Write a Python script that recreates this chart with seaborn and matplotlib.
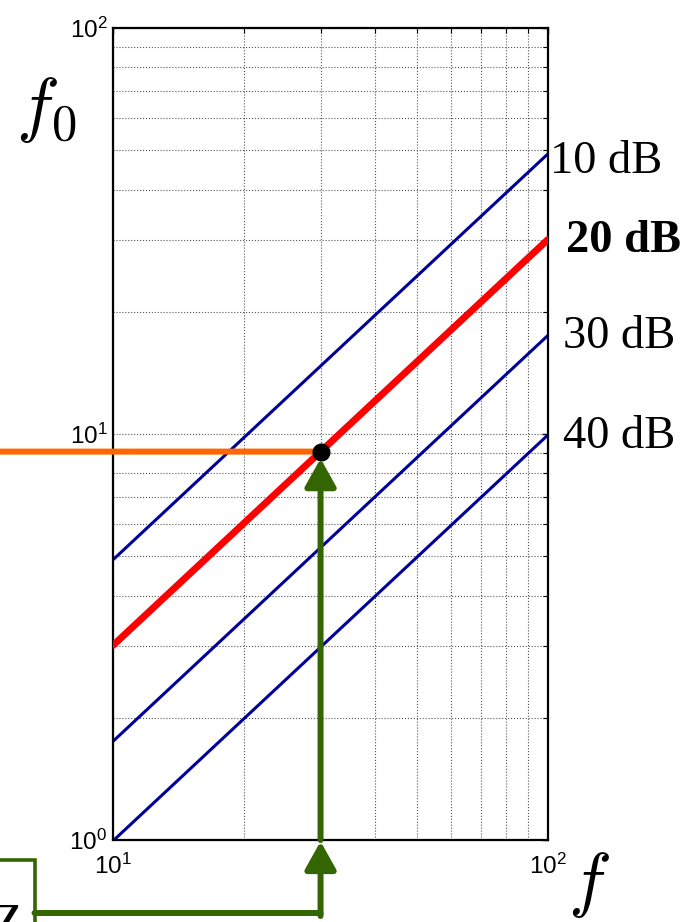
import matplotlib
matplotlib.use("Agg")
import matplotlib.pyplot as plt
from matplotlib.patches import Rectangle
from matplotlib.ticker import NullFormatter
import seaborn as sns
import pandas as pd

# Filter frequency f vs. corner frequency f0 needed for a given attenuation
freq = [10, 100]
f0_10db = [4.9, 49.0]
f0_20db = [3.015, 30.15]
f0_30db = [1.75, 17.5]
f0_40db = [0.995, 9.95]
attenuation_labels = ["10 dB", "20 dB", "30 dB", "40 dB"]

# Worked example: f = 30 with 20 dB attenuation
point_f = 30
point_f0 = 9.05

series = [f0_10db, f0_20db, f0_30db, f0_40db]
df = pd.concat(
    [pd.DataFrame({"f": freq, "f0": vals, "att": lab})
     for vals, lab in zip(series, attenuation_labels)],
    ignore_index=True,
)

sns.set_theme(style="white")
plt.rcParams["font.family"] = ["Liberation Sans", "DejaVu Sans"]
plt.rcParams["text.color"] = "black"
plt.rcParams["xtick.labelcolor"] = "black"
plt.rcParams["ytick.labelcolor"] = "black"

W, H = 692, 922
fig = plt.figure(figsize=(W / 100, H / 100), dpi=100)
ax = fig.add_axes([113 / W, 82 / H, 435 / W, 812 / H])

navy = "#000099"
red = "#ff0000"
orange = "#ff6600"
green = "#336600"

styles = {
    "10 dB": dict(color=navy, lw=2.2, weight="normal", dx=2, dy=-19),
    "20 dB": dict(color=red, lw=5.0, weight="bold", dx=18, dy=-13),
    "30 dB": dict(color=navy, lw=2.2, weight="normal", dx=15, dy=-13),
    "40 dB": dict(color=navy, lw=2.2, weight="normal", dx=15, dy=-13),
}

for lab in attenuation_labels:
    sub = df[df["att"] == lab]
    st = styles[lab]
    sns.lineplot(data=sub, x="f", y="f0", ax=ax, color=st["color"],
                 lw=st["lw"], legend=False, zorder=3 if lab == "20 dB" else 2)

ax.set_xscale("log")
ax.set_yscale("log")
ax.set_xlim(10, 100)
ax.set_ylim(1, 100)
ax.set_xlabel("")
ax.set_ylabel("")
ax.xaxis.set_minor_formatter(NullFormatter())
ax.yaxis.set_minor_formatter(NullFormatter())

ax.grid(True, which="both", ls=":", color="#555555", lw=0.8)
ax.tick_params(which="both", direction="in", top=True, right=True,
               labelsize=17.5, color="black", labelcolor="black")
ax.tick_params(which="major", length=4.5, width=1.0)
ax.tick_params(which="minor", length=3.5, width=0.8)
ax.tick_params(axis="x", pad=10)
ax.tick_params(axis="y", pad=4)
for sp in ax.spines.values():
    sp.set_color("black")
    sp.set_linewidth(1.6)

# Attenuation labels at the right end of each line
for lab, vals in zip(attenuation_labels, series):
    st = styles[lab]
    ax.annotate(lab, xy=(freq[-1], vals[-1]), xytext=(st["dx"], st["dy"]),
                textcoords="offset pixels", fontsize=33.5, color="black",
                family="Liberation Serif", fontweight=st["weight"],
                ha="left", va="baseline", annotation_clip=False)

# Axis symbols
fig.text(16 / W, 1 - 128 / H, r"$f_0$", math_fontfamily="cm",
         fontsize=52, ha="left", va="baseline", color="black")
fig.text(568 / W, 1 - 903 / H, r"$f$", math_fontfamily="cm",
         fontsize=52, ha="left", va="baseline", color="black")

# Read-off construction: horizontal to the f0 axis
ax.annotate("", xy=(point_f, point_f0), xytext=(0, point_f0),
            textcoords=("figure fraction", "data"),
            arrowprops=dict(arrowstyle="-", color=orange, lw=4.3,
                            shrinkA=0, shrinkB=0),
            annotation_clip=False, zorder=4)

head = "-|>,head_length=17,head_width=9.5"
# Vertical feed from below into the f axis
ax.annotate("", xy=(point_f, 1), xycoords="data",
            xytext=(point_f, 6), textcoords=("data", "figure pixels"),
            arrowprops=dict(arrowstyle=head, mutation_scale=1, color=green,
                            lw=4.3, shrinkA=0, shrinkB=1),
            annotation_clip=False, zorder=4)
# Vertical up to the operating point
ax.annotate("", xy=(point_f, point_f0), xytext=(point_f, 1),
            arrowprops=dict(arrowstyle=head, mutation_scale=1, color=green,
                            lw=4.3, shrinkA=0, shrinkB=5),
            annotation_clip=False, zorder=4)
# Horizontal feed from the source block
ax.annotate("", xy=(point_f, 9), xycoords=("data", "figure pixels"),
            xytext=(34.5, 9), textcoords="figure pixels",
            arrowprops=dict(arrowstyle="-", color=green, lw=4.3,
                            shrinkA=0, shrinkB=0),
            annotation_clip=False, zorder=4)

ax.plot([point_f], [point_f0], "o", color="black", ms=12, zorder=6,
        clip_on=False)

# Source block at the lower left
fig.add_artist(Rectangle((-20 / W, -20 / H), (34.5 + 20) / W,
                         (922 - 859.5 + 20) / H, transform=fig.transFigure,
                         fill=False, ec=green, lw=2.6))
fig.text(22 / W, 1 - 903 / H, "Z", family="Liberation Serif", fontsize=40,
         ha="right", va="top", color="black")

fig.savefig("out.png", dpi=100)
